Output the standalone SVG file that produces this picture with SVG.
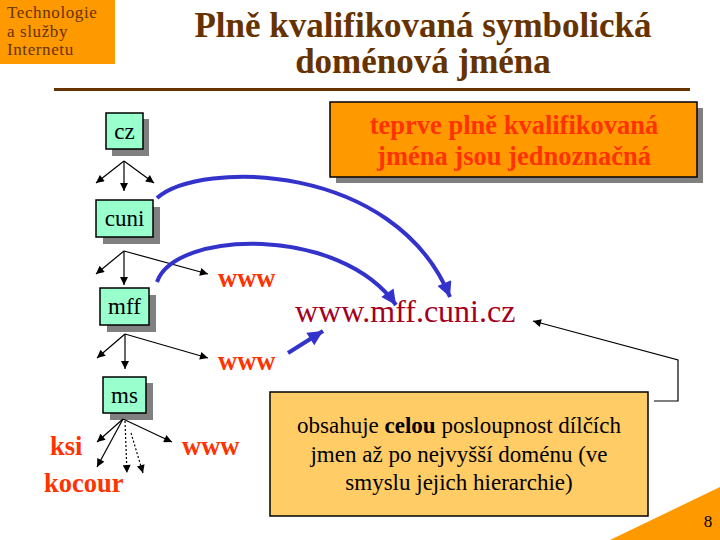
<svg xmlns="http://www.w3.org/2000/svg" width="720" height="540" viewBox="0 0 720 540">
<defs>
<marker id="ah" viewBox="0 0 10 10" refX="10" refY="5" markerWidth="10" markerHeight="8" markerUnits="userSpaceOnUse" orient="auto"><path d="M0,0 L10,5 L0,10 z" fill="#000"/></marker>
<marker id="bh" viewBox="0 0 10 10" refX="10" refY="5" markerWidth="17" markerHeight="15" markerUnits="userSpaceOnUse" orient="auto"><path d="M0,0 L10,5 L0,10 z" fill="#3333CC"/></marker>
<style>
.serif{font-family:"Liberation Serif","Times New Roman",serif}
.node rect.b{fill:#99FFCC;stroke:#000;stroke-width:1.5}
.node rect.s{fill:#808080}
.node text{font-family:"Liberation Serif",serif;font-size:23px;fill:#000;text-anchor:middle}
.red{font-family:"Liberation Serif",serif;font-weight:bold;fill:#FF3300}
.thin{stroke:#000;stroke-width:1.2;fill:none;marker-end:url(#ah)}
.dot{stroke-dasharray:2,2}
.blue{stroke:#3333CC;stroke-width:4;fill:none;marker-end:url(#bh)}
</style>
</defs>
<rect width="720" height="540" fill="#fff"/>
<g id="header">
<rect x="0" y="0" width="115" height="64" fill="#FF9900"/>
<text class="serif" font-size="17" letter-spacing="0.6" fill="#663300"><tspan x="7" y="18">Technologie</tspan><tspan x="7" y="36.5">a služby</tspan><tspan x="7" y="55">Internetu</tspan></text>
<text class="serif" font-size="35" font-weight="bold" fill="#663300" text-anchor="middle"><tspan x="423" y="37">Plně kvalifikovaná symbolická</tspan><tspan x="423" y="73">doménová jména</tspan></text>
<rect x="54" y="88" width="636" height="3" fill="#663300"/>
</g>
<g id="n-cz" class="node"><rect class="s" x="112" y="119" width="37" height="37"/><rect class="b" x="106" y="113" width="37" height="36"/><text x="124.5" y="139">cz</text></g>
<g id="n-cuni" class="node"><rect class="s" x="103" y="207" width="57" height="37"/><rect class="b" x="96" y="200" width="57" height="37"/><text x="124.5" y="226">cuni</text></g>
<g id="n-mff" class="node"><rect class="s" x="107" y="295" width="49" height="37"/><rect class="b" x="100" y="288" width="49" height="37"/><text x="124.5" y="314">mff</text></g>
<g id="n-ms" class="node"><rect class="s" x="110" y="383" width="43" height="37"/><rect class="b" x="103" y="377" width="43" height="36"/><text x="124.5" y="403">ms</text></g>
<g id="labels">
<text class="red" font-size="26.5" x="218" y="287">www</text>
<text class="red" font-size="26.5" x="218" y="370">www</text>
<text class="red" font-size="26.5" x="182" y="455">www</text>
<text class="red" font-size="26.5" x="50" y="455">ksi</text>
<text class="red" font-size="26.5" x="44" y="492">kocour</text>
<text class="serif" x="295" y="322" font-size="32" fill="#A50021">www.mff.cuni.cz</text>
</g>
<g id="note-top"><rect x="336" y="108" width="367" height="75" fill="#808080"/><rect x="330" y="102" width="367" height="75" fill="#FF9900" stroke="#000" stroke-width="1.5"/>
<text class="red" text-anchor="middle" font-size="26.5"><tspan x="514" y="134">teprve plně kvalifikovaná</tspan><tspan x="514" y="165">jména jsou jednoznačná</tspan></text></g>
<g id="note-bottom"><rect x="270" y="392" width="378" height="124" fill="#FFCC66" stroke="#000" stroke-width="1.5"/>
<text class="serif" font-size="23" fill="#000" text-anchor="middle"><tspan x="459" y="433">obsahuje <tspan font-weight="bold">celou</tspan> posloupnost dílčích</tspan><tspan x="459" y="462">jmen až po nejvyšší doménu (ve</tspan><tspan x="459" y="490">smyslu jejich hierarchie)</tspan></text></g>
<g id="corner"><polygon points="610,540 720,487 720,540" fill="#FF9900"/><text class="serif" x="708" y="527" font-size="17" text-anchor="middle">8</text></g>
<g id="connectors">
<line class="thin" x1="124" y1="161" x2="96" y2="183"/>
<line class="thin" x1="124" y1="161" x2="124" y2="191"/>
<line class="thin" x1="124" y1="161" x2="154" y2="183"/>
<line class="thin" x1="124" y1="251" x2="96" y2="274"/>
<line class="thin" x1="124" y1="251" x2="124" y2="285"/>
<line class="thin" x1="124" y1="251" x2="208" y2="274"/>
<line class="thin" x1="125" y1="334" x2="97" y2="358"/>
<line class="thin" x1="125" y1="334" x2="125" y2="369"/>
<line class="thin" x1="125" y1="334" x2="208" y2="358"/>
<line class="thin" x1="123" y1="419" x2="97" y2="442"/>
<line class="thin" x1="123" y1="419" x2="97" y2="467"/>
<line class="thin dot" x1="125" y1="421" x2="127" y2="473"/>
<line class="thin dot" x1="131" y1="433" x2="143" y2="473"/>
<line class="thin" x1="123" y1="419" x2="172" y2="442"/>
<path class="blue" d="M157,198 C200,160 395,162 450,297"/>
<path class="blue" d="M157,282 C175,230 340,225 396,305"/>
<line class="blue" x1="288" y1="353" x2="323" y2="331"/>
<polyline class="thin" points="654,401 678,401 678,360 533,321"/>
</g>
</svg>
